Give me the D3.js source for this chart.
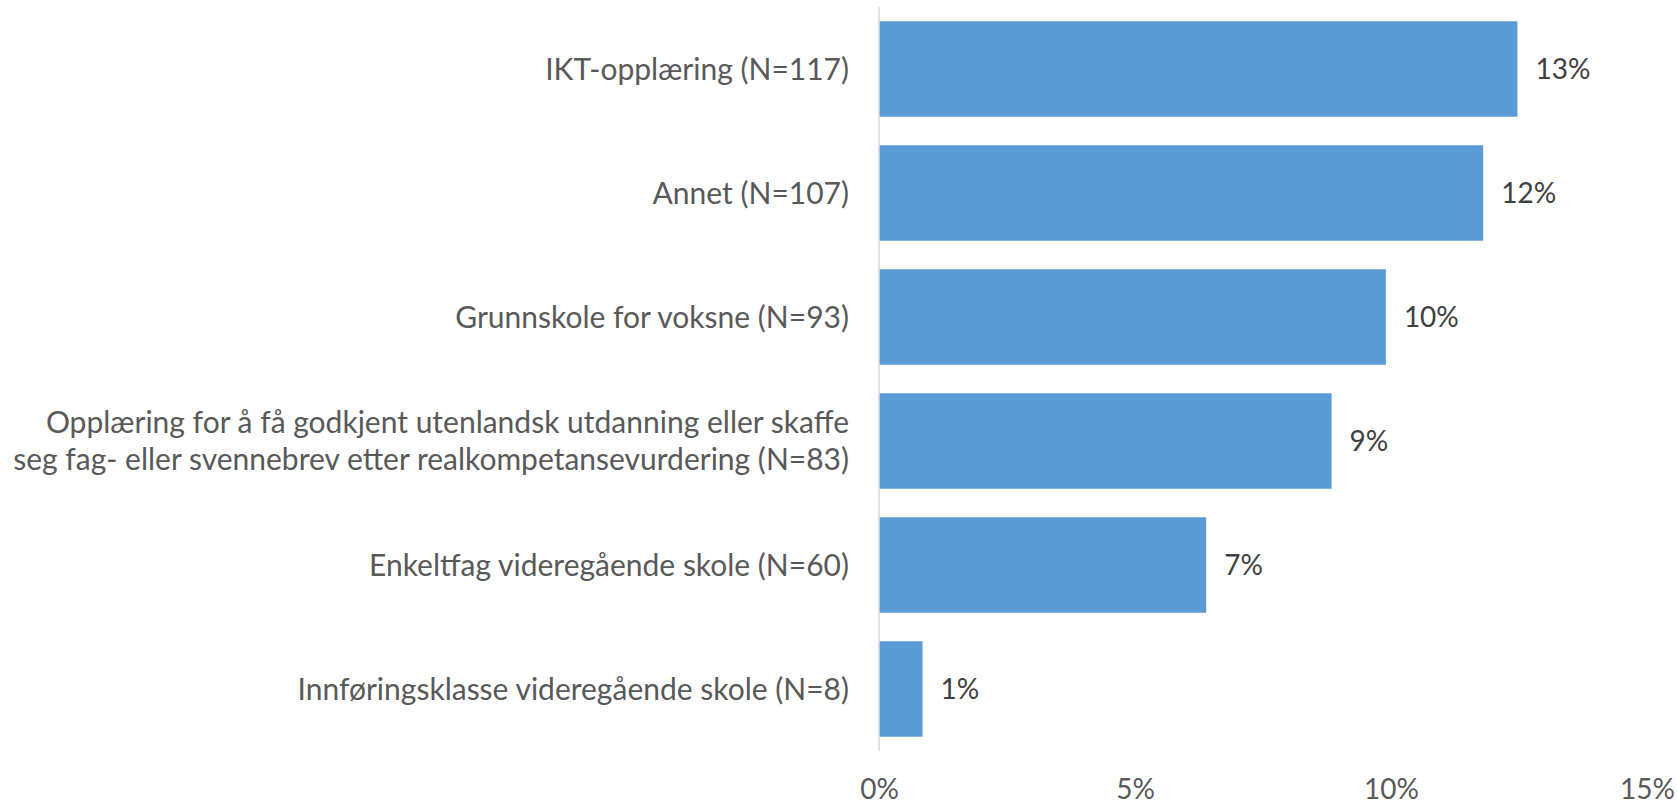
<!DOCTYPE html>
<head>
<meta charset="utf-8">
<style>
body { margin: 0; background: #fff; }
.cat { fill: #595959; font-family: Lato, "Open Sans", sans-serif; font-size: 30px; }
.val { fill: #404040; font-family: Lato, "Open Sans", sans-serif; font-size: 28px; }
.tick text { fill: #595959; font-family: Lato, "Open Sans", sans-serif; font-size: 28px; }
</style>
<script src="https://cdn.jsdelivr.net/npm/d3@7"></script>
</head>
<body>
<svg class="chart" width="1677" height="806"></svg>
<script>

// Categories, top to bottom. A category may wrap onto two lines.
var categories = [
  ["IKT-opplæring (N=117)"],
  ["Annet (N=107)"],
  ["Grunnskole for voksne (N=93)"],
  ["Opplæring for å få godkjent utenlandsk utdanning eller skaffe",
   "seg fag- eller svennebrev etter realkompetansevurdering (N=83)"],
  ["Enkeltfag videregående skole (N=60)"],
  ["Innføringsklasse videregående skole (N=8)"]
];
// Bar lengths in percent.
var values = [12.47, 11.8, 9.9, 8.84, 6.39, 0.85];
// The data labels as printed on the chart.
var valueLabels = ["13%", "12%", "10%", "9%", "7%", "1%"];
var ticks = [0, 5, 10, 15];

var svg = d3.select(".chart");
var plotLeft = 879, plotRight = 1647, plotTop = 7, plotBottom = 751;

var x = d3.scaleLinear().domain([0, 15]).range([plotLeft, plotRight]);
var y = d3.scaleBand()
  .domain(d3.range(categories.length))
  .range([plotTop, plotBottom])
  .paddingInner(0.23)
  .paddingOuter(0.115);

// Bars.
svg.selectAll("rect.bar")
  .data(values)
  .enter().append("rect")
  .attr("class", "bar")
  .attr("x", x(0))
  .attr("y", function(d, i) { return y(i); })
  .attr("width", function(d) { return x(d) - x(0); })
  .attr("height", y.bandwidth())
  .attr("fill", "#5b9bd5");

// Vertical axis line.
svg.append("line")
  .attr("x1", x(0)).attr("x2", x(0))
  .attr("y1", plotTop).attr("y2", plotBottom)
  .attr("stroke", "#d9d9d9")
  .attr("stroke-width", 1.5);

// Category labels, right aligned next to the axis.
var lineHeight = 37;
categories.forEach(function(lines, i) {
  var cy = y(i) + y.bandwidth() / 2;
  var t = svg.append("text")
    .attr("class", "cat")
    .attr("text-anchor", "end");
  lines.forEach(function(s, k) {
    t.append("tspan")
      .attr("x", x(0) - 30)
      .attr("y", cy + (k - (lines.length - 1) / 2) * lineHeight)
      .attr("dy", "0.35em")
      .text(s);
  });
});

// Value labels.
svg.selectAll("text.val")
  .data(values)
  .enter().append("text")
  .attr("class", "val")
  .attr("x", function(d) { return x(d) + 18; })
  .attr("y", function(d, i) { return y(i) + y.bandwidth() / 2; })
  .attr("dy", "0.35em")
  .text(function(d, i) { return valueLabels[i]; });

// Horizontal axis: tick labels only.
var axis = svg.append("g")
  .attr("transform", "translate(0," + 779 + ")")
  .call(d3.axisBottom(x).tickValues(ticks).tickSize(0).tickPadding(0)
    .tickFormat(function(d) { return d + "%"; }));
axis.select(".domain").remove();
axis.selectAll(".tick text").attr("dy", "0.71em");

</script>
</body>
